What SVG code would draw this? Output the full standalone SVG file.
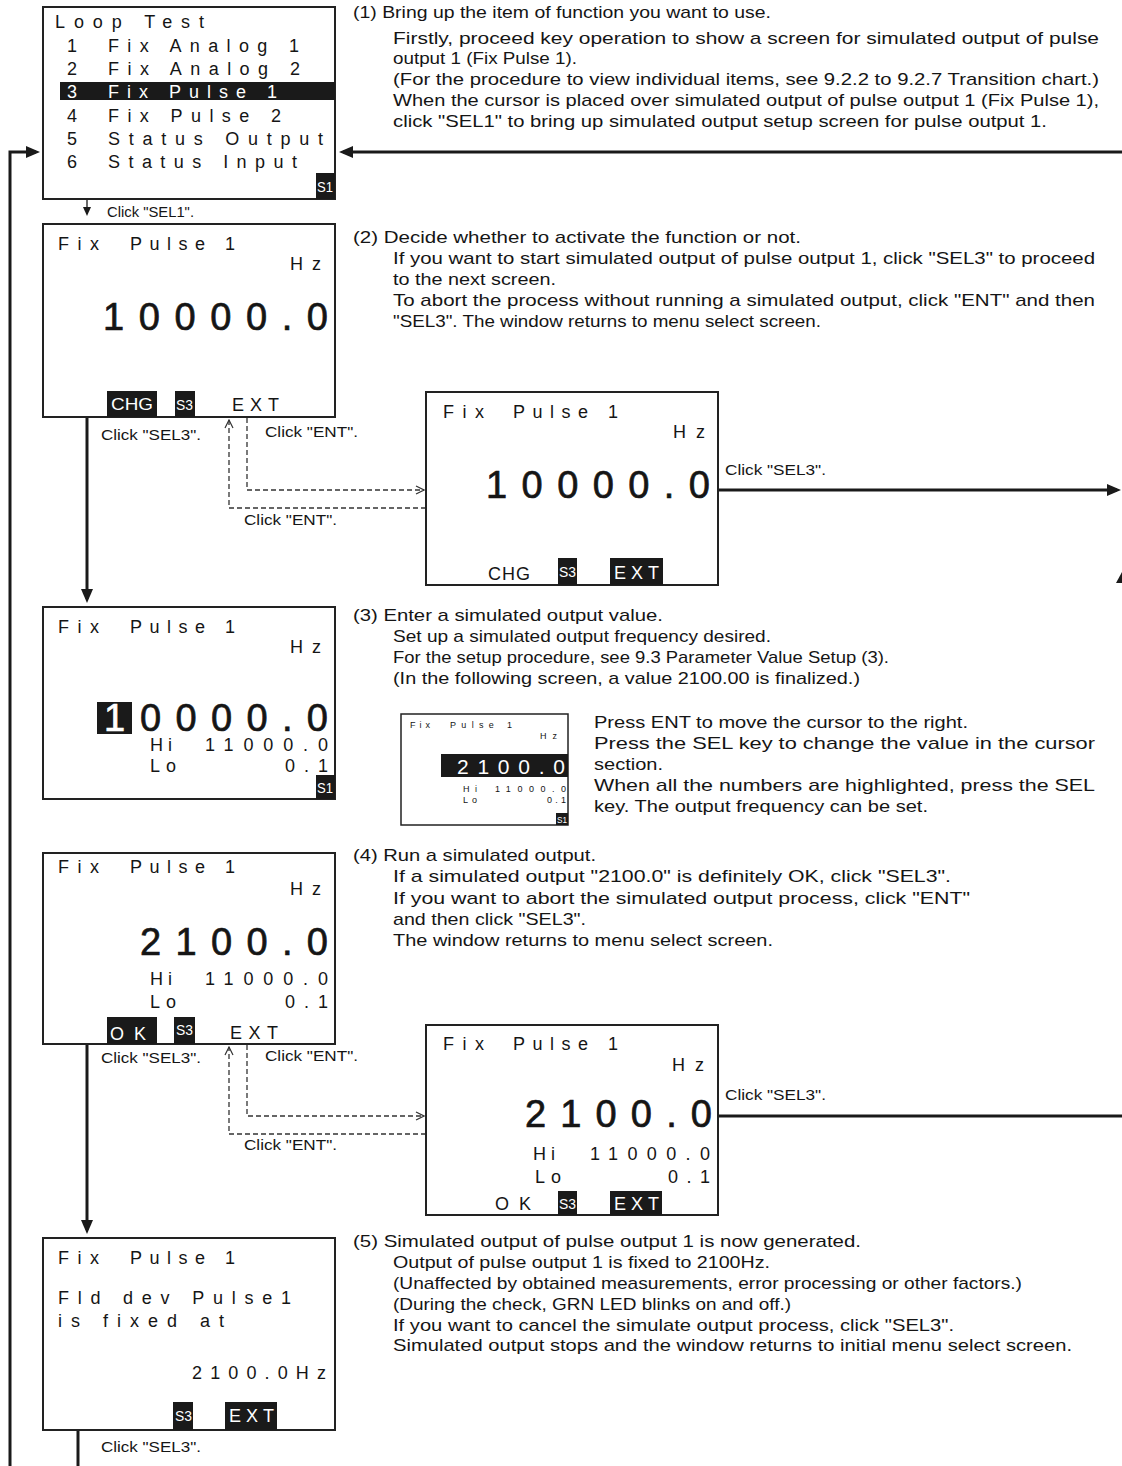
<svg xmlns="http://www.w3.org/2000/svg" width="1122" height="1466" viewBox="0 0 1122 1466">
<style>
text{font-family:"Liberation Sans",Arial,sans-serif;fill:#151515}
.lcd{font-size:18px}
.sm{font-size:9px}
.big{font-size:38px;stroke:#151515;stroke-width:0.7}
.bigw{font-size:38px;fill:#fff;stroke:#fff;stroke-width:0.7}
.txt{font-size:17px}
.lbl{font-size:15px}
.w{fill:#fff}
.key{font-size:16px;fill:#fff}
.s{font-size:14px;fill:#fff}
.box{fill:#fff;stroke:#222;stroke-width:2}
.blk{fill:#1a1a1a}
.con{stroke:#1a1a1a;stroke-width:3;fill:none}
.thin{stroke:#1a1a1a;stroke-width:1.3;fill:none}
.dash{stroke:#333;stroke-width:1.3;stroke-dasharray:5 3;fill:none}
</style>
<defs>
<marker id="ah" markerUnits="userSpaceOnUse" markerWidth="14" markerHeight="12" refX="10" refY="6" orient="auto"><path d="M0,0 L14,6 L0,12 z" fill="#1a1a1a"/></marker>
<marker id="sh" markerUnits="userSpaceOnUse" markerWidth="9" markerHeight="8" refX="7" refY="4" orient="auto"><path d="M0,0 L9,4 L0,8 z" fill="#1a1a1a"/></marker>
<marker id="oh" markerUnits="userSpaceOnUse" markerWidth="10" markerHeight="10" refX="9" refY="5" orient="auto"><path d="M1,1 L9,5 L1,9" fill="none" stroke="#333" stroke-width="1.2"/></marker>
</defs>

<g id="connectors">
<path class="con" d="M10,1466 V152 H36" marker-end="url(#ah)"/>
<path class="con" d="M1122,152 H343" marker-end="url(#ah)"/>
<path class="thin" d="M87,199 V214" marker-end="url(#sh)"/>
<text class="lbl" x="107" y="217" textLength="87" lengthAdjust="spacingAndGlyphs">Click "SEL1".</text>
<path class="con" d="M87,417 V599" marker-end="url(#ah)"/>
<text class="lbl" x="101" y="440" textLength="100" lengthAdjust="spacingAndGlyphs">Click "SEL3".</text>
<path class="dash" d="M426,508 H229 V420" marker-end="url(#oh)"/>
<path class="dash" d="M247,418 V490 H424" marker-end="url(#oh)"/>
<text class="lbl" x="265" y="437" textLength="93" lengthAdjust="spacingAndGlyphs">Click "ENT".</text>
<text class="lbl" x="244" y="525" textLength="93" lengthAdjust="spacingAndGlyphs">Click "ENT".</text>
<path class="con" d="M718,490 H1117" marker-end="url(#ah)"/>
<text class="lbl" x="725" y="475" textLength="101" lengthAdjust="spacingAndGlyphs">Click "SEL3".</text>
<path d="M1116,583 L1122,572 L1122,583 z" fill="#1a1a1a"/>
<path class="con" d="M87,1044 V1230" marker-end="url(#ah)"/>
<text class="lbl" x="101" y="1063" textLength="100" lengthAdjust="spacingAndGlyphs">Click "SEL3".</text>
<path class="dash" d="M426,1134 H229 V1047" marker-end="url(#oh)"/>
<path class="dash" d="M247,1045 V1116 H424" marker-end="url(#oh)"/>
<text class="lbl" x="265" y="1061" textLength="93" lengthAdjust="spacingAndGlyphs">Click "ENT".</text>
<text class="lbl" x="244" y="1150" textLength="93" lengthAdjust="spacingAndGlyphs">Click "ENT".</text>
<path class="con" d="M718,1116 H1122"/>
<text class="lbl" x="725" y="1100" textLength="101" lengthAdjust="spacingAndGlyphs">Click "SEL3".</text>
<path class="con" d="M78,1430 V1466"/>
<text class="lbl" x="101" y="1452" textLength="100" lengthAdjust="spacingAndGlyphs">Click "SEL3".</text>
</g>

<g id="screen-menu">
<rect class="box" x="43" y="7" width="292" height="192"/>
<rect class="blk" x="60" y="82" width="275" height="18"/>
<text class="lcd" x="55" y="28" textLength="149" lengthAdjust="spacing">Loop Test</text>
<text class="lcd" x="67" y="52">1</text><text class="lcd" x="108" y="52" textLength="191" lengthAdjust="spacing">Fix Analog 1</text>
<text class="lcd" x="67" y="75">2</text><text class="lcd" x="108" y="75" textLength="192" lengthAdjust="spacing">Fix Analog 2</text>
<text class="lcd w" x="67" y="98">3</text><text class="lcd w" x="108" y="98" textLength="169" lengthAdjust="spacing">Fix Pulse 1</text>
<text class="lcd" x="67" y="122">4</text><text class="lcd" x="108" y="122" textLength="173" lengthAdjust="spacing">Fix Pulse 2</text>
<text class="lcd" x="67" y="145">5</text><text class="lcd" x="108" y="145" textLength="215" lengthAdjust="spacing">Status Output</text>
<text class="lcd" x="67" y="168">6</text><text class="lcd" x="108" y="168" textLength="189" lengthAdjust="spacing">Status Input</text>
<rect class="blk" x="316" y="173" width="19" height="26"/>
<text class="s" x="317" y="192" textLength="16" lengthAdjust="spacingAndGlyphs">S1</text>
</g>

<g id="screen-2">
<rect class="box" x="43" y="224" width="292" height="193"/>
<text class="lcd" x="58" y="250" textLength="41" lengthAdjust="spacing">Fix</text>
<text class="lcd" x="130" y="250" textLength="105" lengthAdjust="spacing">Pulse 1</text>
<text class="lcd" x="290" y="270" textLength="31" lengthAdjust="spacing">Hz</text>
<text class="big" x="103" y="330" textLength="225" lengthAdjust="spacing">10000.0</text>
<rect class="blk" x="107" y="391" width="50" height="26"/>
<text class="key" x="111" y="410" textLength="42" lengthAdjust="spacingAndGlyphs">CHG</text>
<rect class="blk" x="175" y="391" width="20" height="26"/>
<text class="s" x="176" y="410" textLength="17" lengthAdjust="spacingAndGlyphs">S3</text>
<text class="lcd" x="232" y="411" textLength="47" lengthAdjust="spacing">EXT</text>
</g>

<g id="screen-2-confirm">
<rect class="box" x="426" y="392" width="292" height="193"/>
<text class="lcd" x="443" y="418" textLength="41" lengthAdjust="spacing">Fix</text>
<text class="lcd" x="513" y="418" textLength="105" lengthAdjust="spacing">Pulse 1</text>
<text class="lcd" x="673" y="438" textLength="32" lengthAdjust="spacing">Hz</text>
<text class="big" x="486" y="498" textLength="224" lengthAdjust="spacing">10000.0</text>
<text class="lcd" x="488" y="580" textLength="42" lengthAdjust="spacing">CHG</text>
<rect class="blk" x="558" y="558" width="19" height="27"/>
<text class="s" x="559" y="577" textLength="17" lengthAdjust="spacingAndGlyphs">S3</text>
<rect class="blk" x="610" y="558" width="53" height="27"/>
<text class="lcd w" x="614" y="579" textLength="45" lengthAdjust="spacing">EXT</text>
</g>

<g id="screen-3">
<rect class="box" x="43" y="607" width="292" height="192"/>
<text class="lcd" x="58" y="633" textLength="41" lengthAdjust="spacing">Fix</text>
<text class="lcd" x="130" y="633" textLength="105" lengthAdjust="spacing">Pulse 1</text>
<text class="lcd" x="290" y="653" textLength="31" lengthAdjust="spacing">Hz</text>
<rect class="blk" x="97" y="702" width="35" height="32"/>
<text class="bigw" x="104" y="731">1</text>
<text class="big" x="140" y="731" textLength="188" lengthAdjust="spacing">0000.0</text>
<text class="lcd" x="150" y="751" textLength="22" lengthAdjust="spacing">Hi</text>
<text class="lcd" x="205" y="751" textLength="123" lengthAdjust="spacing">11000.0</text>
<text class="lcd" x="150" y="772" textLength="26" lengthAdjust="spacing">Lo</text>
<text class="lcd" x="285" y="772" textLength="43" lengthAdjust="spacing">0.1</text>
<rect class="blk" x="316" y="775" width="19" height="24"/>
<text class="s" x="317" y="793" textLength="16" lengthAdjust="spacingAndGlyphs">S1</text>
</g>

<g id="screen-3-example">
<rect x="401" y="714" width="167" height="111" fill="#fff" stroke="#222" stroke-width="1.5"/>
<text class="sm" x="410" y="728" textLength="20" lengthAdjust="spacing">Fix</text>
<text class="sm" x="450" y="728" textLength="62" lengthAdjust="spacing">Pulse 1</text>
<text class="sm" x="540" y="739" textLength="17" lengthAdjust="spacing">Hz</text>
<rect class="blk" x="441" y="754" width="127" height="23"/>
<text x="457" y="774" style="font-size:21px;fill:#fff" textLength="108" lengthAdjust="spacing">2100.0</text>
<text class="sm" x="463" y="792" textLength="14" lengthAdjust="spacing">Hi</text>
<text class="sm" x="495" y="792" textLength="71" lengthAdjust="spacing">11000.0</text>
<text class="sm" x="463" y="803" textLength="14" lengthAdjust="spacing">Lo</text>
<text class="sm" x="547" y="803" textLength="19" lengthAdjust="spacing">0.1</text>
<rect class="blk" x="556" y="813" width="12" height="12"/>
<text x="557" y="823" style="font-size:9px;fill:#fff" textLength="10" lengthAdjust="spacingAndGlyphs">S1</text>
</g>

<g id="screen-4">
<rect class="box" x="43" y="853" width="292" height="191"/>
<text class="lcd" x="58" y="873" textLength="41" lengthAdjust="spacing">Fix</text>
<text class="lcd" x="130" y="873" textLength="105" lengthAdjust="spacing">Pulse 1</text>
<text class="lcd" x="290" y="895" textLength="31" lengthAdjust="spacing">Hz</text>
<text class="big" x="140" y="955" textLength="188" lengthAdjust="spacing">2100.0</text>
<text class="lcd" x="150" y="985" textLength="22" lengthAdjust="spacing">Hi</text>
<text class="lcd" x="205" y="985" textLength="123" lengthAdjust="spacing">11000.0</text>
<text class="lcd" x="150" y="1008" textLength="26" lengthAdjust="spacing">Lo</text>
<text class="lcd" x="285" y="1008" textLength="43" lengthAdjust="spacing">0.1</text>
<rect class="blk" x="107" y="1017" width="50" height="27"/>
<text class="lcd w" x="110" y="1040" textLength="36" lengthAdjust="spacing">O K</text>
<rect class="blk" x="174" y="1017" width="21" height="27"/>
<text class="s" x="176" y="1035" textLength="17" lengthAdjust="spacingAndGlyphs">S3</text>
<text class="lcd" x="230" y="1039" textLength="48" lengthAdjust="spacing">EXT</text>
</g>

<g id="screen-4-confirm">
<rect class="box" x="426" y="1025" width="292" height="190"/>
<text class="lcd" x="443" y="1050" textLength="41" lengthAdjust="spacing">Fix</text>
<text class="lcd" x="513" y="1050" textLength="105" lengthAdjust="spacing">Pulse 1</text>
<text class="lcd" x="672" y="1071" textLength="32" lengthAdjust="spacing">Hz</text>
<text class="big" x="525" y="1127" textLength="187" lengthAdjust="spacing">2100.0</text>
<text class="lcd" x="533" y="1160" textLength="22" lengthAdjust="spacing">Hi</text>
<text class="lcd" x="590" y="1160" textLength="120" lengthAdjust="spacing">11000.0</text>
<text class="lcd" x="535" y="1183" textLength="26" lengthAdjust="spacing">Lo</text>
<text class="lcd" x="668" y="1183" textLength="42" lengthAdjust="spacing">0.1</text>
<text class="lcd" x="495" y="1210" textLength="36" lengthAdjust="spacing">O K</text>
<rect class="blk" x="558" y="1191" width="19" height="24"/>
<text class="s" x="559" y="1209" textLength="17" lengthAdjust="spacingAndGlyphs">S3</text>
<rect class="blk" x="610" y="1191" width="52" height="24"/>
<text class="lcd w" x="614" y="1210" textLength="45" lengthAdjust="spacing">EXT</text>
</g>

<g id="screen-5">
<rect class="box" x="43" y="1238" width="292" height="192"/>
<text class="lcd" x="58" y="1264" textLength="41" lengthAdjust="spacing">Fix</text>
<text class="lcd" x="130" y="1264" textLength="105" lengthAdjust="spacing">Pulse 1</text>
<text class="lcd" x="58" y="1304" textLength="233" lengthAdjust="spacing">Fld dev Pulse1</text>
<text class="lcd" x="58" y="1327" textLength="166" lengthAdjust="spacing">is fixed at</text>
<text class="lcd" x="192" y="1379" textLength="134" lengthAdjust="spacing">2100.0Hz</text>
<rect class="blk" x="173" y="1402" width="20" height="28"/>
<text class="s" x="175" y="1421" textLength="17" lengthAdjust="spacingAndGlyphs">S3</text>
<rect class="blk" x="225" y="1402" width="52" height="28"/>
<text class="lcd w" x="229" y="1422" textLength="45" lengthAdjust="spacing">EXT</text>
</g>

<g id="text-1">
<text class="txt" x="353" y="18" textLength="418" lengthAdjust="spacingAndGlyphs">(1) Bring up the item of function you want to use.</text>
<text class="txt" x="393" y="44" textLength="706" lengthAdjust="spacingAndGlyphs">Firstly, proceed key operation to show a screen for simulated output of pulse</text>
<text class="txt" x="393" y="64" textLength="184" lengthAdjust="spacingAndGlyphs">output 1 (Fix Pulse 1).</text>
<text class="txt" x="393" y="85" textLength="706" lengthAdjust="spacingAndGlyphs">(For the procedure to view individual items, see 9.2.2 to 9.2.7 Transition chart.)</text>
<text class="txt" x="393" y="106" textLength="706" lengthAdjust="spacingAndGlyphs">When the cursor is placed over simulated output of pulse output 1 (Fix Pulse 1),</text>
<text class="txt" x="393" y="127" textLength="654" lengthAdjust="spacingAndGlyphs">click "SEL1" to bring up simulated output setup screen for pulse output 1.</text>
</g>

<g id="text-2">
<text class="txt" x="353" y="243" textLength="448" lengthAdjust="spacingAndGlyphs">(2) Decide whether to activate the function or not.</text>
<text class="txt" x="393" y="264" textLength="702" lengthAdjust="spacingAndGlyphs">If you want to start simulated output of pulse output 1, click "SEL3" to proceed</text>
<text class="txt" x="393" y="285" textLength="163" lengthAdjust="spacingAndGlyphs">to the next screen.</text>
<text class="txt" x="393" y="306" textLength="702" lengthAdjust="spacingAndGlyphs">To abort the process without running a simulated output, click "ENT" and then</text>
<text class="txt" x="393" y="327" textLength="428" lengthAdjust="spacingAndGlyphs">"SEL3". The window returns to menu select screen.</text>
</g>

<g id="text-3">
<text class="txt" x="353" y="621" textLength="310" lengthAdjust="spacingAndGlyphs">(3) Enter a simulated output value.</text>
<text class="txt" x="393" y="642" textLength="378" lengthAdjust="spacingAndGlyphs">Set up a simulated output frequency desired.</text>
<text class="txt" x="393" y="663" textLength="496" lengthAdjust="spacingAndGlyphs">For the setup procedure, see 9.3 Parameter Value Setup (3).</text>
<text class="txt" x="393" y="684" textLength="467" lengthAdjust="spacingAndGlyphs">(In the following screen, a value 2100.00 is finalized.)</text>
<text class="txt" x="594" y="728" textLength="374" lengthAdjust="spacingAndGlyphs">Press ENT to move the cursor to the right.</text>
<text class="txt" x="594" y="749" textLength="501" lengthAdjust="spacingAndGlyphs">Press the SEL key to change the value in the cursor</text>
<text class="txt" x="594" y="770" textLength="69" lengthAdjust="spacingAndGlyphs">section.</text>
<text class="txt" x="594" y="791" textLength="501" lengthAdjust="spacingAndGlyphs">When all the numbers are highlighted, press the SEL</text>
<text class="txt" x="594" y="812" textLength="334" lengthAdjust="spacingAndGlyphs">key. The output frequency can be set.</text>
</g>

<g id="text-4">
<text class="txt" x="353" y="861" textLength="243" lengthAdjust="spacingAndGlyphs">(4) Run a simulated output.</text>
<text class="txt" x="393" y="882" textLength="558" lengthAdjust="spacingAndGlyphs">If a simulated output "2100.0" is definitely OK, click "SEL3".</text>
<text class="txt" x="393" y="904" textLength="577" lengthAdjust="spacingAndGlyphs">If you want to abort the simulated output process, click "ENT"</text>
<text class="txt" x="393" y="925" textLength="193" lengthAdjust="spacingAndGlyphs">and then click "SEL3".</text>
<text class="txt" x="393" y="946" textLength="380" lengthAdjust="spacingAndGlyphs">The window returns to menu select screen.</text>
</g>

<g id="text-5">
<text class="txt" x="353" y="1247" textLength="508" lengthAdjust="spacingAndGlyphs">(5) Simulated output of pulse output 1 is now generated.</text>
<text class="txt" x="393" y="1268" textLength="377" lengthAdjust="spacingAndGlyphs">Output of pulse output 1 is fixed to 2100Hz.</text>
<text class="txt" x="393" y="1289" textLength="629" lengthAdjust="spacingAndGlyphs">(Unaffected by obtained measurements, error processing or other factors.)</text>
<text class="txt" x="393" y="1310" textLength="398" lengthAdjust="spacingAndGlyphs">(During the check, GRN LED blinks on and off.)</text>
<text class="txt" x="393" y="1331" textLength="561" lengthAdjust="spacingAndGlyphs">If you want to cancel the simulate output process, click "SEL3".</text>
<text class="txt" x="393" y="1351" textLength="679" lengthAdjust="spacingAndGlyphs">Simulated output stops and the window returns to initial menu select screen.</text>
</g>
</svg>
